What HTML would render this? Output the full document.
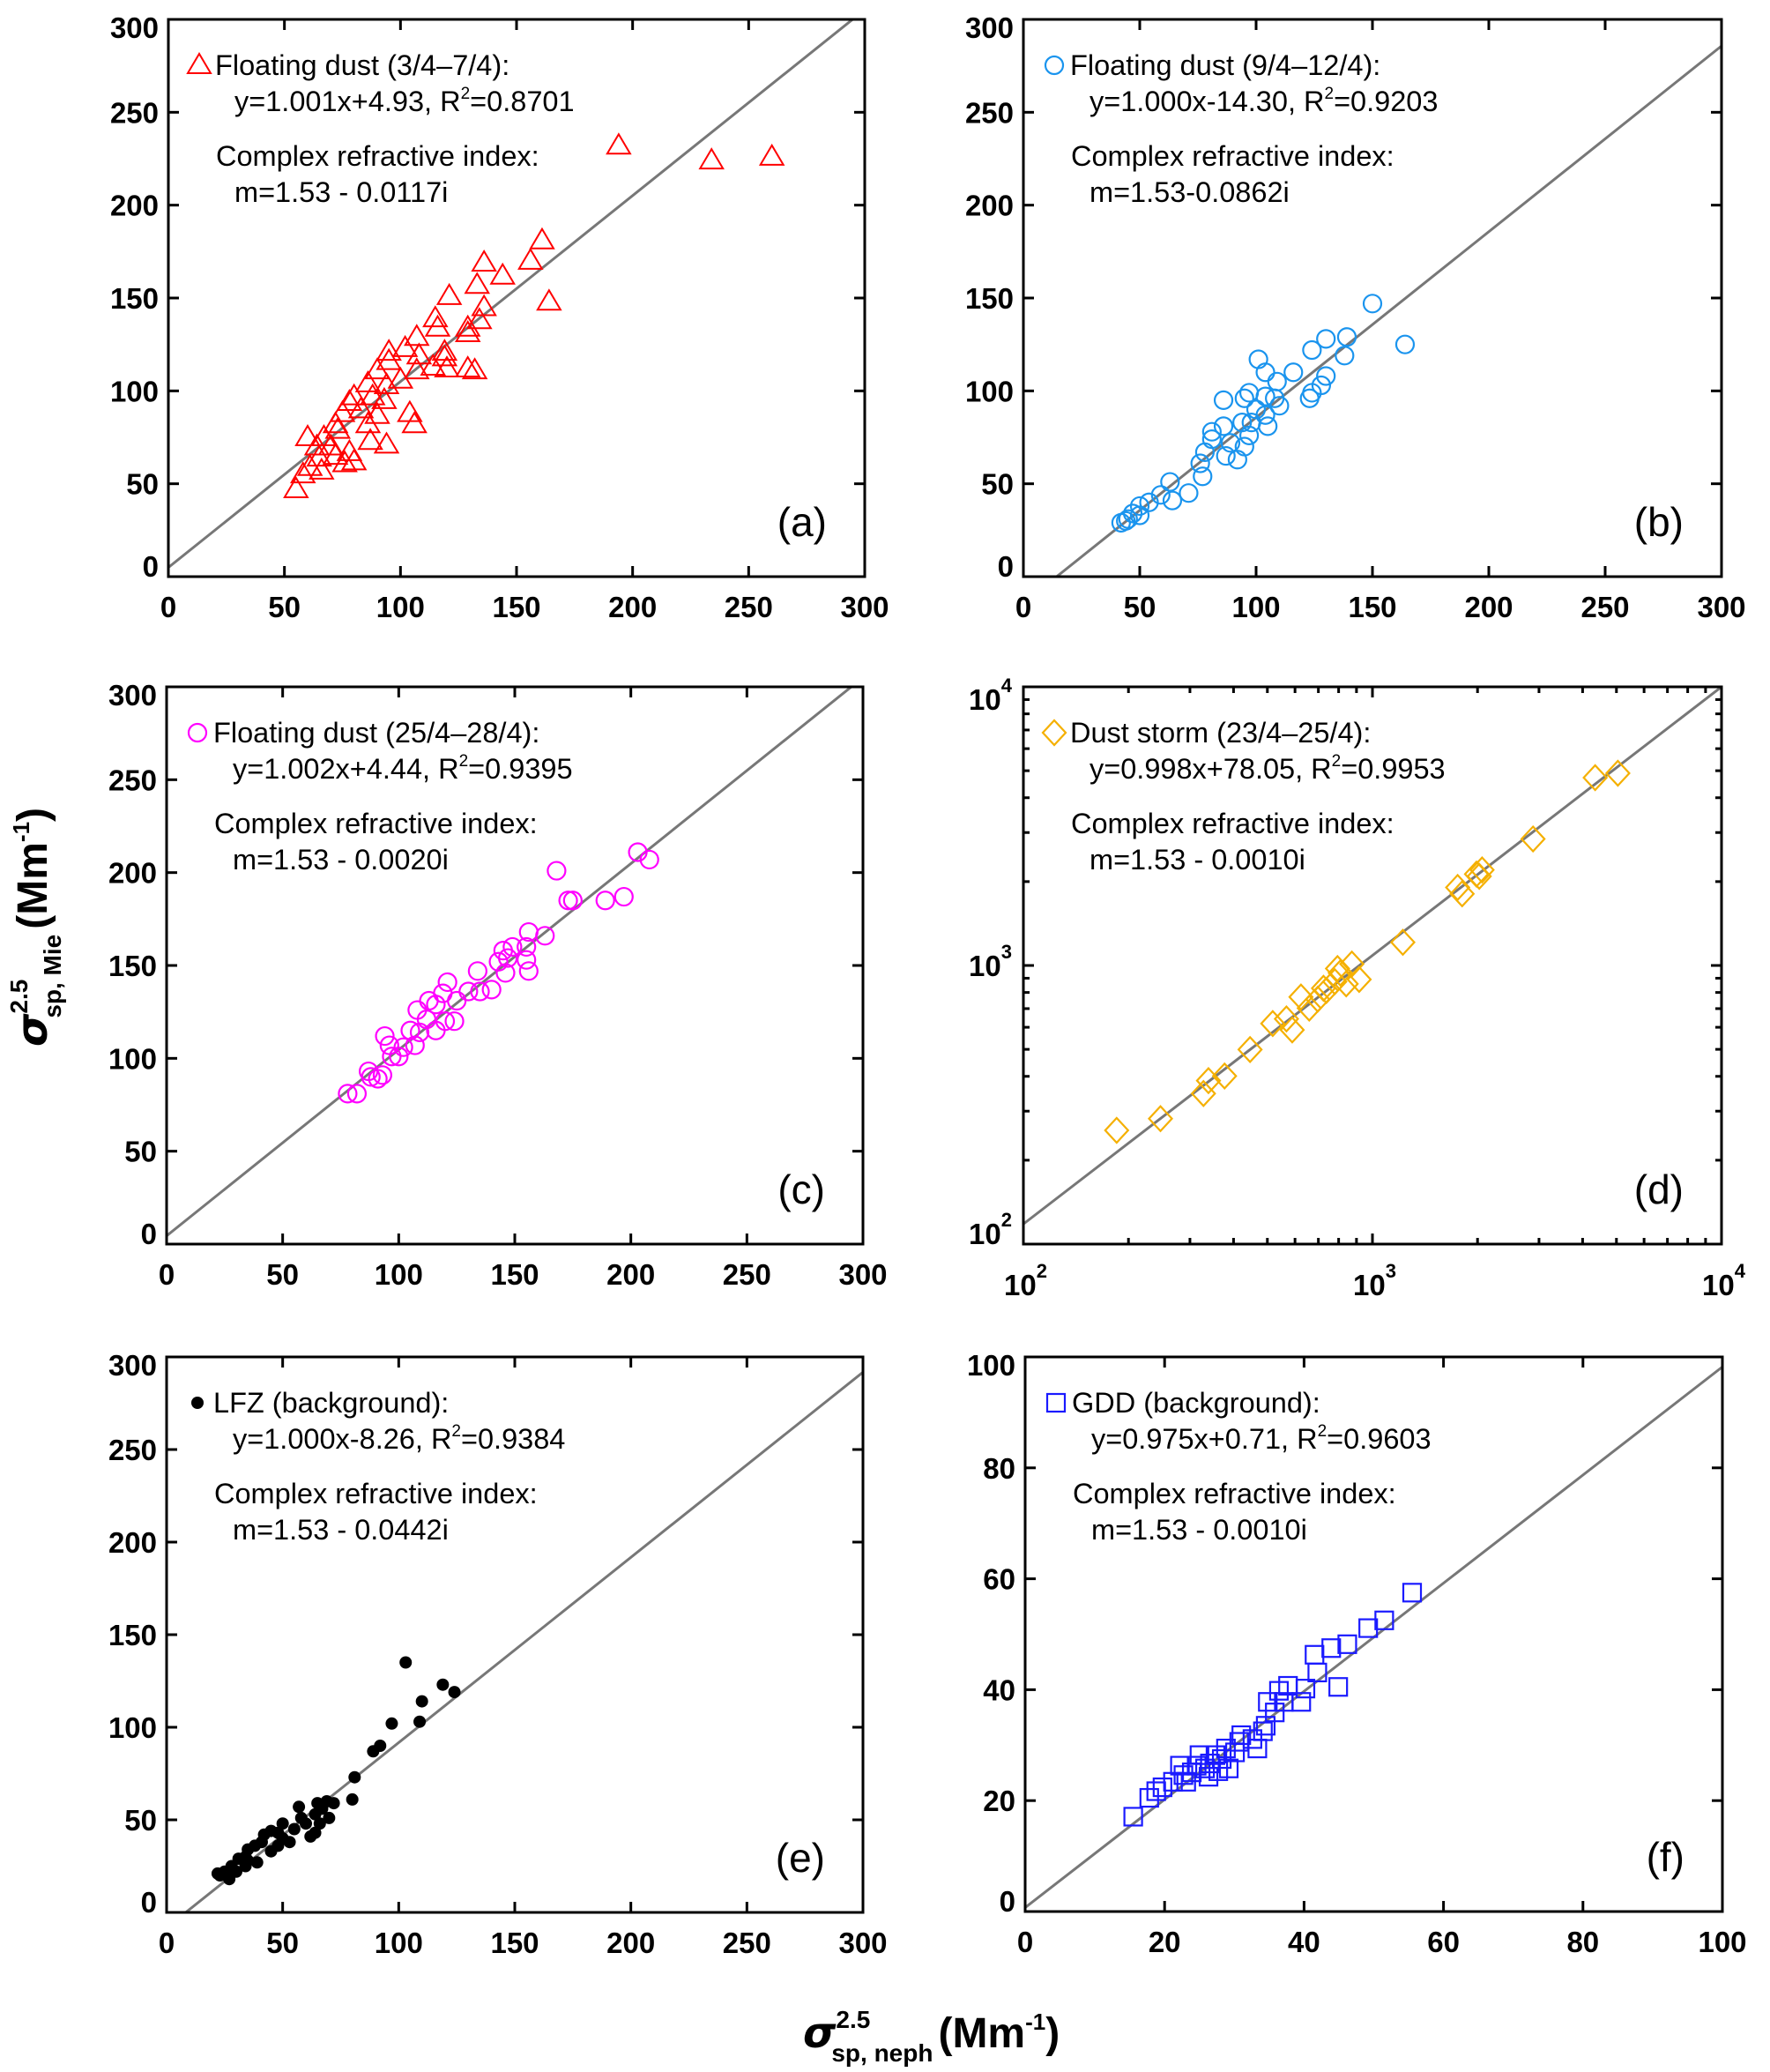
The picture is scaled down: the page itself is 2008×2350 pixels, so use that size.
<!DOCTYPE html>
<html><head><meta charset="utf-8">
<style>
html,body{margin:0;padding:0;background:#fff;}
svg{display:block;font-family:"Liberation Sans",Arial,sans-serif;}
.tk{font-size:33px;font-weight:bold;fill:#000;}
.lg{font-size:32.5px;fill:#000;}
.pl{font-size:46px;fill:#000;}
</style></head>
<body>
<svg id="fig" width="2008" height="2350" viewBox="0 0 2008 2350" xmlns="http://www.w3.org/2000/svg">
<g transform="translate(53,1187) rotate(-90)">
<text x="0" y="0" font-size="48" font-weight="bold"><tspan font-style="italic" font-family="DejaVu Sans, sans-serif">σ</tspan><tspan font-size="28" dy="-22">2.5</tspan><tspan font-size="28" dx="-44" dy="38">sp, Mie</tspan><tspan dy="-16" dx="6">(Mm</tspan><tspan font-size="26" dy="-20">-1</tspan><tspan dy="20">)</tspan></text>
</g>
<g>
<text x="911" y="2322" font-size="48" font-weight="bold"><tspan font-style="italic" font-family="DejaVu Sans, sans-serif">σ</tspan><tspan font-size="28" dy="-22">2.5</tspan><tspan font-size="28" dx="-44" dy="38">sp, neph</tspan><tspan dy="-16" dx="6">(Mm</tspan><tspan font-size="26" dy="-20">-1</tspan><tspan dy="20">)</tspan></text>
</g>
</svg>
<script>
// ---- data ----
const aX=[194,234,260,161,156,136,144,133,164,121,136,115,116,134,129,129,107,102,95,95,119,119,108,114,120,129,132,107,90,100,94,86,88,93,80,78,83,75,72,104,106,90,86,87,94,73,78,80,76,72,67,60,64,65,61,66,58,55,70];
const aY=[232,224,226,181,170,169,162,157,148,151,145,139,134,138,134,131,129,123,121,116,121,118,119,113,112,112,111,111,111,106,103,104,97,95,97,94,90,88,82,88,82,87,82,73,71,79,67,62,61,65,75,75,70,64,59,57,55,47,70];
const bX=[150,164,139,130,138,124,101,104,109,116,130,128,124,123,97,104,108,110,100,94,104,86,95,86,89,81,95,87,78,76,81,77,71,63,64,59,54,50,47,44,50,42,45,97,92,98,105];
const bY=[147,125,129,128,119,122,117,110,105,110,108,103,99,96,99,97,96,92,90,83,87,95,96,81,72,78,70,65,67,61,74,54,45,51,41,44,40,38,34,30,33,29,31,76,63,83,81];
const cX=[203,208,168,197,189,173,175,163,156,155,149,145,155,143,147,156,146,134,140,135,121,119,116,113,125,120,124,112,109,116,105,100,107,102,96,94,97,87,93,91,82,78,88,130,108];
const cY=[211,207,201,187,185,185,185,166,168,160,160,158,153,152,154,147,146,147,137,136,141,135,129,131,131,120,120,121,114,115,115,101,107,106,107,112,101,93,91,89,81,81,90,136,126];
const dX=[185,247,328,339,377,446,518,567,589,624,659,697,738,780,809,841,873,916,724,794,1222,1754,1807,1986,2061,2023,2884,4345,5047];
const dY=[256,282,347,386,401,499,619,643,587,771,703,757,813,875,940,859,1012,891,828,975,1211,1905,1807,2128,2203,2089,2844,4721,4898];
const eX=[103,119,124,110,109,97,92,89,81,80,72,67,64,58,66,70,62,55,48,45,42,41,38,48,53,35,34,31,28,25,23,22,27,30,35,39,34,60,64,50,45,57,50,69,65];
const eY=[135,123,119,114,103,102,90,87,73,61,59,56,53,51,48,51,41,45,43,44,42,38,36,36,38,34,30,29,25,22,20,21,18,22,28,27,25,48,43,40,33,57,48,60,59];
const fX=[55.5,51.5,49.2,46.2,43.9,44.9,41.5,41.9,40.2,39.6,37.7,36.4,37.1,35.8,34.5,34.1,33.3,32.6,30.7,30.1,28.8,28.2,27.3,26.5,25.8,24.6,23.9,22.7,22.2,21.2,19.7,18.8,17.8,15.5,26.3,27.7,31,34.8,29.2,25,23.1];
const fY=[57.5,52.5,51.1,48.2,47.5,40.5,46.3,43.1,40.2,37.8,40.7,39.8,37.8,35.9,33.5,32.5,29.4,31.1,30.6,28.7,29.4,27.5,28.2,26.7,25.8,26.3,25.1,24.6,26.3,23.4,22.4,21.7,20.5,17.1,24.3,25.3,31.8,37.8,25.8,28.2,23.4];
const linTicks300=[0,50,100,150,200,250,300];
const linTicks100=[0,20,40,60,80,100];
const logTicks=[2,3,4];
// fit lines: slope, intercept (panel d: as drawn in log-log space, log10 y = s*log10 x + b)
const fitA=[1.001,4.93], fitB=[1.000,-14.30], fitC=[1.002,4.44], fitDLog=[0.964,0.144], fitE=[1.000,-8.26], fitF=[0.975,0.71];

const NS='http://www.w3.org/2000/svg';
const svg=document.getElementById('fig');
function mk(tag,attrs,parent){const e=document.createElementNS(NS,tag);for(const k in attrs)e.setAttribute(k,attrs[k]);(parent||svg).appendChild(e);return e;}

const panels=[
 {id:'a',L:191,T:22,W:790,H:632,log:false,max:300,ticks:linTicks300,xs:aX,ys:aY,fit:fitA,mk:'tri',col:'#ff0000',
  lines:['Floating dust (3/4–7/4):','y=1.001x+4.93, R','=0.8701','m=1.53 - 0.0117i']},
 {id:'b',L:1161,T:22,W:792,H:632,log:false,max:300,ticks:linTicks300,xs:bX,ys:bY,fit:fitB,mk:'circ',col:'#1a94ee',
  lines:['Floating dust  (9/4–12/4):','y=1.000x-14.30, R','=0.9203','m=1.53-0.0862i']},
 {id:'c',L:189,T:779,W:790,H:632,log:false,max:300,ticks:linTicks300,xs:cX,ys:cY,fit:fitC,mk:'circ',col:'#ff00ff',
  lines:['Floating dust (25/4–28/4):','y=1.002x+4.44, R','=0.9395','m=1.53 - 0.0020i']},
 {id:'d',L:1161,T:779,W:792,H:632,log:true,ticks:logTicks,xs:dX,ys:dY,fit:fitDLog,mk:'dia',col:'#f5b000',
  lines:['Dust storm (23/4–25/4):','y=0.998x+78.05, R','=0.9953','m=1.53 - 0.0010i']},
 {id:'e',L:189,T:1539,W:790,H:630,log:false,max:300,ticks:linTicks300,xs:eX,ys:eY,fit:fitE,mk:'dot',col:'#000',
  lines:['LFZ (background):','y=1.000x-8.26, R','=0.9384','m=1.53 - 0.0442i']},
 {id:'f',L:1163,T:1539,W:791,H:629,log:false,max:100,ticks:linTicks100,xs:fX,ys:fY,fit:fitF,mk:'sq',col:'#1a1aff',
  lines:['GDD (background):','y=0.975x+0.71, R','=0.9603','m=1.53 - 0.0010i']}
];

panels.forEach(p=>{
 const g=mk('g',{});
 
 
 const R=p.L+p.W,B=p.T+p.H;
 let sx,sy;
 if(p.log){sx=v=>p.L+(Math.log10(v)-2)/2*p.W;sy=v=>B-(Math.log10(v)-2)/2*p.H;}
 else{sx=v=>p.L+v/p.max*p.W;sy=v=>B-v/p.max*p.H;}
 const cp=mk('clipPath',{id:'clip'+p.id},g);
 mk('rect',{x:p.L,y:p.T,width:p.W,height:p.H},cp);
 let ln;
 if(p.log){
  const y1=Math.pow(10,p.fit[0]*2+p.fit[1]), y2=Math.pow(10,p.fit[0]*4+p.fit[1]);
  ln=mk('line',{x1:sx(100),y1:sy(y1),x2:sx(1e4),y2:sy(y2),stroke:'#777',"stroke-width":3,"clip-path":'url(#clip'+p.id+')'},g);
 } else {
  ln=mk('line',{x1:sx(0),y1:sy(p.fit[1]),x2:sx(p.max),y2:sy(p.fit[0]*p.max+p.fit[1]),stroke:'#777',"stroke-width":3,"clip-path":'url(#clip'+p.id+')'},g);
 }
 
 
 function marker(x,y,par,name){
  let e;
  if(p.mk==='tri')e=mk('polygon',{points:`${x},${y-13} ${x-13},${y+9} ${x+13},${y+9}`,fill:'none',stroke:p.col,"stroke-width":2},par);
  else if(p.mk==='circ')e=mk('circle',{cx:x,cy:y,r:10,fill:'none',stroke:p.col,"stroke-width":2.2},par);
  else if(p.mk==='dia')e=mk('polygon',{points:`${x},${y-14} ${x+13},${y} ${x},${y+14} ${x-13},${y}`,fill:'none',stroke:p.col,"stroke-width":2.2},par);
  else if(p.mk==='sq')e=mk('rect',{x:x-10,y:y-10,width:20,height:20,fill:'none',stroke:p.col,"stroke-width":2.2},par);
  else e=mk('circle',{cx:x,cy:y,r:7,fill:p.col},par);
  
  
  return e;
 }
 p.xs.forEach((v,i)=>{marker(sx(v),sy(p.ys[i]),g,'point-'+p.id);});
 const bx=mk('rect',{x:p.L,y:p.T,width:p.W,height:p.H,fill:'none',stroke:'#000',"stroke-width":3},g);
 
 
 const tk=[];
 if(p.log){
  for(let d=2;d<4;d++)for(let m=1;m<10;m++){const v=m*Math.pow(10,d);tk.push([v,m===1?12:7]);}
  tk.push([1e4,12]);
 } else p.ticks.forEach(v=>tk.push([v,12]));
 tk.forEach(([v,len])=>{
  const X=sx(v),Y=sy(v);
  mk('line',{x1:X,y1:B,x2:X,y2:B-len,stroke:'#000',"stroke-width":3},g);
  mk('line',{x1:X,y1:p.T,x2:X,y2:p.T+len,stroke:'#000',"stroke-width":3},g);
  mk('line',{x1:p.L,y1:Y,x2:p.L+len,y2:Y,stroke:'#000',"stroke-width":3},g);
  mk('line',{x1:R,y1:Y,x2:R-len,y2:Y,stroke:'#000',"stroke-width":3},g);
 });
 const n=p.ticks.length;
 p.ticks.forEach((v,i)=>{
  if(p.log){
   const val=Math.pow(10,v);
   const tx=mk('text',{x:sx(val)-22,y:B+58,class:'tk'},g);
   tx.textContent='10';
   
   
   const s1=mk('tspan',{dy:-20,"font-size":22},tx);s1.textContent=String(v);
   let yy=sy(val)+12; if(i===0)yy=B; if(i===n-1)yy=p.T+26;
   const ty=mk('text',{x:p.L-62,y:yy,class:'tk'},g);
   ty.textContent='10';
   
   
   const t2=mk('tspan',{dy:-20,"font-size":22},ty);t2.textContent=String(v);
  } else {
   const tx=mk('text',{x:sx(v),y:B+46,class:'tk',"text-anchor":'middle'},g);
   tx.textContent=String(v);
   
   
   let yy=sy(v)+12; if(i===0)yy=B; if(i===n-1)yy=p.T+21;
   const ty=mk('text',{x:p.L-11,y:yy,class:'tk',"text-anchor":'end'},g);
   ty.textContent=String(v);
   
   
  }
 });
 const lg=mk('g',{},g);
 
 
 marker(p.L+35,p.T+52,lg,'legend-marker');
 const t1=mk('text',{x:p.L+53,y:p.T+63,class:'lg'},lg);t1.textContent=p.lines[0];
 const t2=mk('text',{x:p.L+75,y:p.T+104,class:'lg'},lg);t2.textContent=p.lines[1];
 const sup=mk('tspan',{dy:-14,"font-size":19},t2);sup.textContent='2';
 const rest=mk('tspan',{dy:14},t2);rest.textContent=p.lines[2];
 const t3=mk('text',{x:p.L+54,y:p.T+166,class:'lg'},lg);t3.textContent='Complex refractive index:';
 const t4=mk('text',{x:p.L+75,y:p.T+207,class:'lg'},lg);t4.textContent=p.lines[3];
 const pl=mk('text',{x:R-43,y:B-46,class:'pl',"text-anchor":'end'},g);
 pl.textContent='('+p.id+')';
 
 
});
</script>
</body></html>
